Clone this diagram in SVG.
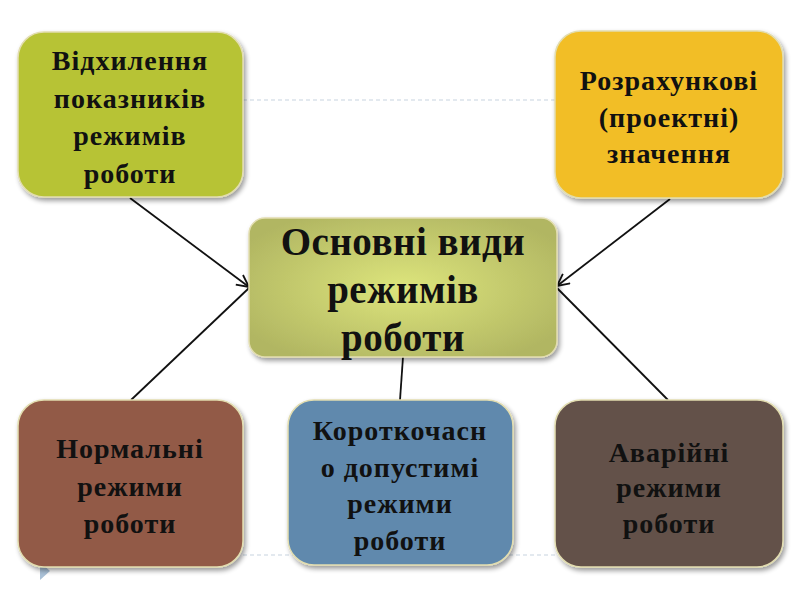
<svg xmlns="http://www.w3.org/2000/svg" width="800" height="600" viewBox="0 0 800 600">
  <style>
    .box { stroke: #e2ddb0; stroke-width: 1.5; filter: url(#shadow); }
    .t { font-family: "Liberation Serif", "Times New Roman", serif; font-weight: bold; font-size: 28px; fill: #111; text-anchor: middle; letter-spacing: 1px; }
    .tc { font-size: 39px; letter-spacing: 0.5px; }
    .conn { stroke: #111; stroke-width: 1.8; fill: none; }
    .guide { stroke: #c8d4e0; stroke-width: 1.2; stroke-dasharray: 4 3; fill: none; }
  </style>
  <defs>
    <filter id="shadow" x="-10%" y="-10%" width="125%" height="125%">
      <feGaussianBlur in="SourceAlpha" stdDeviation="2.5"/>
      <feOffset dx="2" dy="3" result="b"/>
      <feComponentTransfer><feFuncA type="linear" slope="0.4"/></feComponentTransfer>
      <feMerge><feMergeNode/><feMergeNode in="SourceGraphic"/></feMerge>
    </filter>
    <radialGradient id="gc" cx="50%" cy="50%" r="60%">
      <stop offset="0" stop-color="#dde57c"/>
      <stop offset="1" stop-color="#b1b662"/>
    </radialGradient>
    <marker id="arr" viewBox="0 0 14 14" refX="13" refY="7" markerWidth="14" markerHeight="14" markerUnits="userSpaceOnUse" orient="auto">
      <path d="M1,1 L13,7 L1,13" fill="none" stroke="#111" stroke-width="1.8"/>
    </marker>
  </defs>
  <rect width="800" height="600" fill="#ffffff"/>

  <g id="guides">
    <line class="guide" x1="243" y1="100" x2="556" y2="100"/>
    <line class="guide" x1="243" y1="555" x2="556" y2="555"/>
    <polygon points="40,562 50,571 40,580" fill="#a9c0d6"/>
  </g>

  <g id="connectors">
    <line class="conn" x1="130" y1="198" x2="249" y2="287" marker-end="url(#arr)"/>
    <line class="conn" x1="249" y1="288" x2="131" y2="400"/>
    <line class="conn" x1="670" y1="199" x2="557" y2="286" marker-end="url(#arr)"/>
    <line class="conn" x1="557" y1="288" x2="668" y2="400"/>
    <line class="conn" x1="403" y1="357" x2="400" y2="400"/>
  </g>

  <g id="node-top-left">
    <rect class="box" x="18" y="32" width="225" height="165" rx="26" fill="#b7c336"/>
    <text class="t" x="130" y="70">Відхилення</text>
    <text class="t" x="130" y="108">показників</text>
    <text class="t" x="130" y="145">режимів</text>
    <text class="t" x="130" y="183">роботи</text>
  </g>

  <g id="node-top-right">
    <rect class="box" x="555" y="31" width="228" height="167" rx="26" fill="#f2be27"/>
    <text class="t" x="669" y="90">Розрахункові</text>
    <text class="t" x="669" y="127">(проектні)</text>
    <text class="t" x="669" y="163">значення</text>
  </g>

  <g id="node-center">
    <rect class="box" x="249" y="218" width="308" height="139" rx="16" fill="url(#gc)"/>
    <text class="t tc" x="403" y="255">Основні види</text>
    <text class="t tc" x="403" y="303">режимів</text>
    <text class="t tc" x="403" y="351">роботи</text>
  </g>

  <g id="node-bottom-left">
    <rect class="box" x="18" y="400" width="225" height="167" rx="26" fill="#925a47"/>
    <text class="t" x="130" y="458">Нормальні</text>
    <text class="t" x="130" y="496">режими</text>
    <text class="t" x="130" y="533">роботи</text>
  </g>

  <g id="node-bottom-middle">
    <rect class="box" x="288" y="400" width="225" height="165" rx="26" fill="#6089ad"/>
    <text class="t" x="400" y="440">Короткочасн</text>
    <text class="t" x="400" y="477">о допустимі</text>
    <text class="t" x="400" y="513">режими</text>
    <text class="t" x="400" y="550">роботи</text>
  </g>

  <g id="node-bottom-right">
    <rect class="box" x="555" y="400" width="228" height="167" rx="26" fill="#64514a"/>
    <text class="t" x="669" y="462">Аварійні</text>
    <text class="t" x="669" y="497">режими</text>
    <text class="t" x="669" y="533">роботи</text>
  </g>
</svg>
